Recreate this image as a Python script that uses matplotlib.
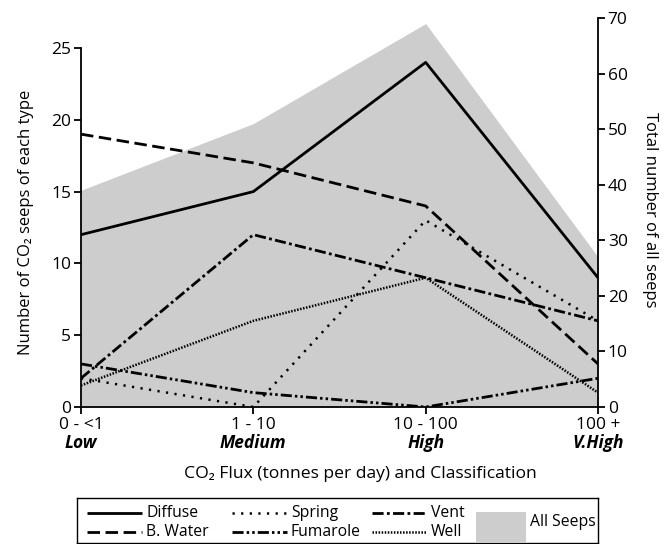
import matplotlib
matplotlib.use('Agg')
import matplotlib.pyplot as plt
from matplotlib.patches import Rectangle

plt.rcParams['font.family'] = ['Open Sans', 'DejaVu Sans']
plt.rcParams['lines.scale_dashes'] = False

flux = ['0 - <1', '1 - 10', '10 - 100', '100 +']
classes = ['Low', 'Medium', 'High', 'V.High']
diffuse = [12, 15, 24, 9]
b_water = [19, 17, 14, 3]
spring = [2, 0, 13, 6]
fumarole = [3, 1, 0, 2]
vent = [2, 12, 9, 6]
well = [1.5, 6, 9, 1]
all_seeps = [39, 51, 69, 27]

W, H = 666, 544
x = list(range(len(flux)))

# line styles (dashes in points)
sty = {
    'Diffuse': dict(ls='-', lw=2.0),
    'B. Water': dict(dashes=(9, 4), lw=2.0),
    'Spring': dict(dashes=(1.6, 4.6), lw=1.8),
    'Fumarole': dict(dashes=(8, 2.2, 1.8, 2.2, 1.8, 2.2), lw=2.0),
    'Vent': dict(dashes=(8, 2.4, 2, 2.4), lw=2.0),
    'Well': dict(dashes=(1.1, 1.1), lw=1.8),
}
series = {'Diffuse': diffuse, 'B. Water': b_water, 'Spring': spring,
          'Fumarole': fumarole, 'Vent': vent, 'Well': well}
gray = '#cdcdcd'

fig = plt.figure(figsize=(W/100, H/100), dpi=100)
ax = fig.add_axes([81/W, 1-407/H, 517/W, 389/H])
ax2 = ax.twinx()

ax2.fill_between(x, 0, all_seeps, color=gray, lw=0)
ax2.set_ylim(0, 70)
ax2.set_yticks(range(0, 71, 10))

ax.set_zorder(ax2.get_zorder()+1)
ax.patch.set_visible(False)

for name, vals in series.items():
    ax.plot(x, vals, color='black', solid_capstyle='butt',
            dash_capstyle='butt', **sty[name])

ax.set_xlim(0, 3)
ax.set_ylim(0, 25*389/359)
ax.set_yticks(range(0, 26, 5))
ax.spines['left'].set_bounds(0, 25)
for a in (ax, ax2):
    a.spines['top'].set_visible(False)
    for s in a.spines.values():
        s.set_linewidth(1.3)
ax2.spines['left'].set_visible(False)
ax2.spines['bottom'].set_visible(False)
ax.spines['right'].set_visible(False)

ax.tick_params(axis='both', direction='out', length=5, width=1.3,
               labelsize=12.5, pad=2)
ax2.tick_params(axis='y', direction='out', length=5, width=1.3,
                labelsize=12.5, pad=2)

ax.set_xticks(x)
ax.set_xticklabels(flux)
for i, c in enumerate(classes):
    ax.annotate(c, xy=(i, 0), xycoords=('data', 'axes fraction'),
                xytext=(0, -26), textcoords='offset points',
                ha='center', va='center', fontsize=12.5,
                fontweight='bold', fontstyle='italic')

fig.text(26/W, 1-222/H, 'Number of CO₂ seeps of each type',
         rotation=90, ha='center', va='center', fontsize=12)
fig.text(650/W, 1-210/H, 'Total number of all seeps',
         rotation=270, ha='center', va='center', fontsize=12)
fig.text(360/W, 1-474/H, 'CO₂ Flux (tonnes per day) and Classification',
         ha='center', va='center', fontsize=12.6)

# legend box drawn by hand
lax = fig.add_axes([77/W, 1-543/H, 521/W, 45/H])
lax.set_xlim(77, 598)
lax.set_ylim(543, 498)
lax.set_xticks([])
lax.set_yticks([])
for s in lax.spines.values():
    s.set_linewidth(1.0)

cols = [('Diffuse', 'B. Water', 87), ('Spring', 'Fumarole', 232),
        ('Vent', 'Well', 372)]
for top, bot, x0 in cols:
    for name, yy in ((top, 513), (bot, 532)):
        lax.plot([x0, x0+55], [yy, yy], color='black',
                 solid_capstyle='butt', dash_capstyle='butt', **sty[name])
        lax.text(x0+59, yy, name, ha='left', va='center', fontsize=11.3)
lax.add_patch(Rectangle((476, 512), 50, 30, color=gray, lw=0))
lax.text(530, 522, 'All Seeps', ha='left', va='center', fontsize=11.3)

fig.savefig('out.png', dpi=100)
